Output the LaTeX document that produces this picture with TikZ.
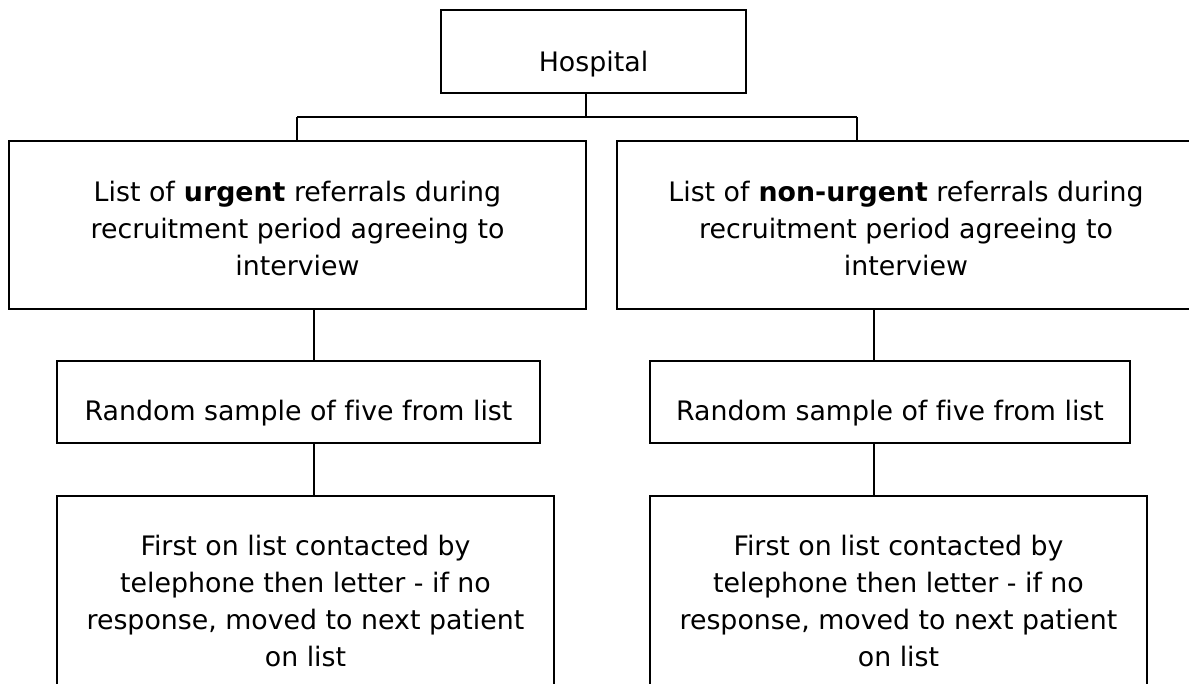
\documentclass[tikz,border=0pt]{standalone}
\usepackage{fontspec}
\setmainfont[Ligatures=NoCommon]{DejaVu Sans}
\usepackage{tikz}

\begin{document}
\begin{tikzpicture}[x=1pt,y=-1pt,line width=1.6pt,
    box/.style={draw,rectangle,inner sep=0pt},
    txt/.style={font=\fontsize{26.8}{37}\selectfont,align=center}]
    \clip (0,0) rectangle (1189,684);
    \node[box,minimum width=305pt,minimum height=83pt,
      label={[txt,yshift=-12.6pt]center:Hospital}] (hosp) at (593.5,51.5) {};
    \node[box,minimum width=577pt,minimum height=168pt,
      label={[txt,yshift=-4pt]center:{List of \textbf{urgent} referrals during\\recruitment period agreeing to\\interview}}] (l1) at (297.5,225) {};
    \node[box,minimum width=578pt,minimum height=168pt,
      label={[txt,yshift=-4pt]center:{List of \textbf{non-urgent} referrals during\\recruitment period agreeing to\\interview}}] (l2) at (906,225) {};
    \node[box,minimum width=483pt,minimum height=82pt,
      label={[txt,yshift=-11pt]center:Random sample of five from list}] (s1) at (298.5,402) {};
    \node[box,minimum width=480pt,minimum height=82pt,
      label={[txt,yshift=-11pt]center:Random sample of five from list}] (s2) at (890,402) {};
    \node[box,minimum width=497pt,minimum height=210pt,
      label={[txt]center:{First on list contacted by\\telephone then letter - if no\\response, moved to next patient\\on list}}] (c1) at (305.5,601) {};
    \node[box,minimum width=497pt,minimum height=210pt,
      label={[txt]center:{First on list contacted by\\telephone then letter - if no\\response, moved to next patient\\on list}}] (c2) at (898.5,601) {};
    \coordinate (jn) at (586,117);
    \coordinate (jl) at (297,117);
    \coordinate (jr) at (857,117);
    \coordinate (vl) at (314,0);
    \coordinate (vr) at (874,0);
    \draw (hosp.south -| jn) -- (jn);
    \draw (jl) -- (jr);
    \draw (jl) -- (jl |- l1.north);
    \draw (jr) -- (jr |- l2.north);
    \draw (vl |- l1.south) -- (vl |- s1.north);
    \draw (vl |- s1.south) -- (vl |- c1.north);
    \draw (vr |- l2.south) -- (vr |- s2.north);
    \draw (vr |- s2.south) -- (vr |- c2.north);
  \end{tikzpicture}
\end{document}
